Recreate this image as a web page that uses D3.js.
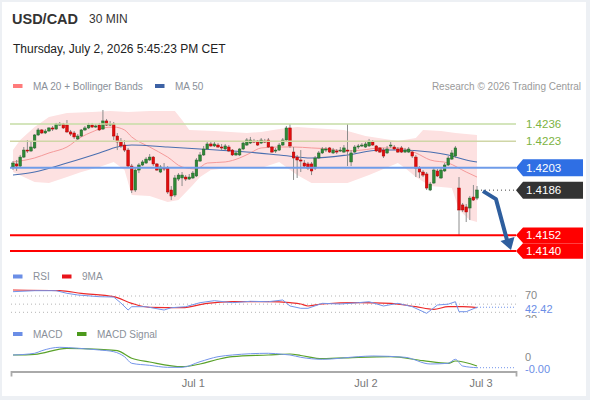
<!DOCTYPE html>
<html>
<head>
<meta charset="utf-8">
<script src="https://cdn.jsdelivr.net/npm/d3@7"></script>
<style>
  body { margin: 0; background: #fff; }
  svg text { font-family: "Liberation Sans", Arial, sans-serif; }
</style>
</head>
<body>
<svg id="chart" width="590" height="400"></svg>
<script>
// USD/CAD 30 min chart

// candles, oldest first (130 half-hour bars)
const candleOpen = [1.42035,1.42058,1.42042,1.42110,1.42163,1.42156,1.42179,1.42277,1.42315,1.42292,
  1.42307,1.42330,1.42322,1.42352,1.42360,1.42352,1.42300,1.42292,1.42247,1.42269,
  1.42315,1.42330,1.42352,1.42337,1.42352,1.42322,1.42383,1.42352,1.42360,1.42269,
  1.42231,1.42201,1.42163,1.42042,1.41861,1.42012,1.42050,1.42065,1.42088,1.42110,
  1.42058,1.41997,1.42027,1.42027,1.41861,1.41823,1.41944,1.41952,1.41959,1.41944,
  1.41952,1.41967,1.42080,1.42126,1.42171,1.42209,1.42194,1.42201,1.42186,1.42171,
  1.42186,1.42163,1.42126,1.42126,1.42171,1.42201,1.42216,1.42231,1.42231,1.42216,
  1.42231,1.42239,1.42186,1.42156,1.42163,1.42201,1.42239,1.42330,1.42148,1.42110,
  1.42088,1.42065,1.42058,1.42058,1.42027,1.42103,1.42141,1.42163,1.42179,1.42141,
  1.42156,1.42156,1.42148,1.42163,1.42073,1.42148,1.42186,1.42194,1.42186,1.42194,
  1.42224,1.42194,1.42179,1.42163,1.42141,1.42194,1.42186,1.42171,1.42179,1.42148,
  1.42148,1.42148,1.42110,1.42027,1.41997,1.41982,1.41861,1.41914,1.42005,1.41952,
  1.42005,1.42050,1.42095,1.42118,1.41876,1.41748,1.41733,1.41725,1.41808,1.41800];
const candleHigh = [1.42080,1.42088,1.42126,1.42186,1.42239,1.42231,1.42284,1.42330,1.42322,1.42322,
  1.42337,1.42345,1.42368,1.42375,1.42368,1.42390,1.42315,1.42307,1.42284,1.42322,
  1.42345,1.42368,1.42368,1.42360,1.42368,1.42466,1.42398,1.42383,1.42375,1.42292,
  1.42254,1.42239,1.42179,1.42058,1.42027,1.42065,1.42088,1.42110,1.42133,1.42118,
  1.42065,1.42050,1.42065,1.42042,1.41891,1.41974,1.41989,1.41997,1.41974,1.41982,
  1.42005,1.42103,1.42148,1.42194,1.42224,1.42224,1.42224,1.42216,1.42209,1.42209,
  1.42201,1.42171,1.42156,1.42179,1.42231,1.42254,1.42262,1.42247,1.42239,1.42254,
  1.42247,1.42254,1.42194,1.42179,1.42216,1.42254,1.42345,1.42360,1.42186,1.42126,
  1.42163,1.42088,1.42073,1.42073,1.42118,1.42156,1.42186,1.42186,1.42186,1.42179,
  1.42171,1.42186,1.42201,1.42360,1.42163,1.42201,1.42209,1.42216,1.42224,1.42247,
  1.42239,1.42201,1.42186,1.42179,1.42194,1.42231,1.42201,1.42186,1.42194,1.42179,
  1.42186,1.42163,1.42126,1.42042,1.42012,1.41997,1.41922,1.42027,1.42020,1.42027,
  1.42065,1.42118,1.42163,1.42194,1.41959,1.41763,1.41755,1.41816,1.41899,1.41891];
const candleLow = [1.42012,1.42005,1.42035,1.42103,1.42141,1.42148,1.42171,1.42269,1.42284,1.42284,
  1.42300,1.42307,1.42315,1.42345,1.42322,1.42292,1.42269,1.42247,1.42239,1.42262,
  1.42307,1.42322,1.42330,1.42330,1.42307,1.42315,1.42345,1.42345,1.42239,1.42163,
  1.42179,1.42148,1.42027,1.41838,1.41846,1.41989,1.42042,1.42058,1.42080,1.42042,
  1.42005,1.41989,1.42005,1.41831,1.41785,1.41808,1.41929,1.41891,1.41929,1.41937,
  1.41944,1.41959,1.42073,1.42118,1.42163,1.42186,1.42186,1.42179,1.42163,1.42163,
  1.42148,1.42118,1.42118,1.42118,1.42163,1.42194,1.42209,1.42216,1.42194,1.42209,
  1.42216,1.42179,1.42141,1.42141,1.42156,1.42194,1.42231,1.42179,1.41937,1.41952,
  1.41997,1.42027,1.42012,1.41974,1.42012,1.42095,1.42133,1.42148,1.42141,1.42133,
  1.42133,1.42148,1.42141,1.42042,1.42042,1.42141,1.42171,1.42186,1.42179,1.42186,
  1.42194,1.42148,1.42141,1.42103,1.42133,1.42179,1.42163,1.42141,1.42141,1.42141,
  1.42141,1.42103,1.41959,1.41952,1.41959,1.41861,1.41853,1.41906,1.41959,1.41944,
  1.41997,1.42042,1.42088,1.42103,1.41521,1.41695,1.41619,1.41634,1.41778,1.41785];
const candleClose = [1.42065,1.42042,1.42110,1.42163,1.42156,1.42186,1.42277,1.42315,1.42292,1.42307,
  1.42330,1.42322,1.42360,1.42360,1.42330,1.42300,1.42284,1.42262,1.42269,1.42315,
  1.42330,1.42352,1.42337,1.42345,1.42315,1.42383,1.42352,1.42360,1.42269,1.42224,
  1.42194,1.42163,1.42042,1.41861,1.42012,1.42050,1.42073,1.42095,1.42110,1.42058,
  1.42012,1.42035,1.42020,1.41846,1.41816,1.41952,1.41974,1.41974,1.41944,1.41959,
  1.41989,1.42088,1.42126,1.42171,1.42209,1.42194,1.42209,1.42186,1.42179,1.42194,
  1.42156,1.42126,1.42141,1.42171,1.42216,1.42239,1.42239,1.42226,1.42201,1.42239,
  1.42224,1.42186,1.42148,1.42163,1.42201,1.42239,1.42330,1.42194,1.42103,1.42088,
  1.42080,1.42042,1.42027,1.42005,1.42103,1.42141,1.42171,1.42171,1.42148,1.42163,
  1.42148,1.42163,1.42179,1.42156,1.42141,1.42186,1.42194,1.42201,1.42209,1.42231,
  1.42201,1.42156,1.42148,1.42118,1.42171,1.42201,1.42171,1.42148,1.42148,1.42163,
  1.42171,1.42118,1.42027,1.41997,1.41974,1.41876,1.41906,1.42012,1.41967,1.42012,
  1.42050,1.42103,1.42141,1.42179,1.41710,1.41710,1.41695,1.41800,1.41785,1.41861];

// Bollinger bands and moving averages (bar index -> value)
const bbUpperIdx = [0,2,6,10,15,22,27,32,38,45,47,49,56,65,69,74,79,83,92,98,107,112,114,119,123,129];
const bbUpper = [1.42163,1.42239,1.42337,1.42413,1.42443,1.42451,1.42458,1.42451,1.42458,1.42458,
  1.42390,1.42315,1.42307,1.42292,1.42300,1.42322,1.42337,1.42330,1.42315,1.42269,
  1.42231,1.42254,1.42315,1.42307,1.42292,1.42277];
const bbLowerIdx = [0,6,10,15,19,24,28,31,33,38,43,46,50,52,55,60,69,74,79,83,93,99,107,109,112,116,122,124,127,129];
const bbLower = [1.41997,1.41922,1.41914,1.41959,1.41997,1.42035,1.42073,1.42012,1.41823,1.41816,
  1.41770,1.41785,1.41899,1.41959,1.42012,1.42027,1.42027,1.42073,1.41974,1.41914,
  1.41914,1.41974,1.42065,1.42027,1.41959,1.41891,1.41876,1.41710,1.41634,1.41619];
const ma20Idx = [0,6,10,15,19,22,25,28,31,33,38,43,47,51,54,59,63,66,69,74,78,83,88,92,97,102,107,112,116,121,126,129];
const ma20 = [1.42073,1.42103,1.42141,1.42186,1.42262,1.42300,1.42330,1.42337,1.42315,1.42262,
  1.42186,1.42110,1.42035,1.42020,1.42065,1.42073,1.42103,1.42141,1.42179,1.42186,
  1.42186,1.42179,1.42171,1.42156,1.42163,1.42179,1.42179,1.42141,1.42088,1.42065,
  1.41997,1.41959];
const ma50Idx = [0,6,15,24,29,33,43,52,65,74,83,93,102,107,116,121,126,129];
const ma50 = [1.41974,1.41997,1.42065,1.42141,1.42186,1.42201,1.42186,1.42171,1.42148,1.42126,
  1.42103,1.42126,1.42163,1.42163,1.42148,1.42126,1.42088,1.42073];

// key levels
const resistLevels = [1.4236, 1.4223];
const pivotLevel = 1.4203;
const lastPrice = 1.4186;
const supportLevels = [1.4152, 1.4140];

// RSI and its 9 period average
const rsiIdx = [0,6,12,15,18,24,28,30,32,33,37,42,44,48,52,56,61,66,71,75,77,80,82,86,91,96,99,103,107,111,115,118,121,123,124,126,129];
const rsi = [80.6,83,83,76.6,72.5,68.3,67.5,52.8,35.6,43.7,43.7,35.6,41.3,43.7,53.6,58.5,53.6,57,56,60.2,
  45.5,39.8,39.8,52,50.4,53.6,56,45.5,52,43.7,27.5,47.9,50,56,31.5,31.5,42.42];
const rsiMaIdx = [0,13,19,28,33,38,47,54,61,71,77,80,82,86,96,105,112,117,121,125,129];
const rsiMa = [84.7,83,76.6,68.3,52,42.3,41.3,52,56,56,53.6,50.4,45.5,50.4,53.6,52,43.7,37.4,43.7,43.7,41.3];
const rsiLevels = [70, 50, 30];

// MACD and signal line
const macdIdx = [0,6,8,13,18,24,28,31,33,38,43,47,52,57,61,71,75,77,80,86,96,100,109,116,121,123,125,129];
const macd = [0.000092,0.00015,0.000238,0.000354,0.00032,0.000262,0.000204,0.000034,-0.00019,-0.000259,
  -0.000327,-0.000327,-0.000136,0.000034,0.000092,0.00015,0.000116,0.000092,0.000014,-0.000054,
  0.000034,0.000058,0.000014,-0.000214,-0.00019,-0.000054,-0.000282,-0.00034];
const signalIdx = [0,6,15,24,29,33,38,47,52,57,61,71,77,80,86,96,105,114,121,123,129];
const signal = [0.000092,0.000116,0.00032,0.000286,0.000238,-0.00002,-0.000146,-0.000306,-0.000214,-0.000054,
  0.000034,0.000092,0.000126,0.000075,-0.000034,0.000014,0.000034,-0.000102,-0.00019,-0.000112,-0.000282];

// x axis dates
const dateTicks = [50, 98, 130];
const dateLabels = ["Jul 1", "Jul 2", "Jul 3"];

const svg = d3.select("#chart");

// frame
svg.append("rect").attr("width", 590).attr("height", 400).attr("fill", "#edf0f4");
svg.append("rect").attr("x", 2).attr("y", 2).attr("width", 584).attr("height", 394).attr("fill", "#fff");

// scales
const x = d3.scaleLinear().domain([0, candleClose.length - 1]).range([13, 477]);
const y = d3.scaleLinear().domain([1.4140, 1.4236]).range([251, 124]);
const rsiY = d3.scaleLinear().domain([30, 70]).range([312.3, 296]);
const macdY = d3.scaleLinear().domain([0, 0.0001]).range([357.7, 354.76]);

const lineLeft = 10, lineRight = 516;

// header
svg.append("text").attr("x", 12).attr("y", 24).attr("font-size", 14.5).attr("font-weight", "bold")
  .attr("fill", "#333").text("USD/CAD");
svg.append("text").attr("x", 89).attr("y", 23).attr("font-size", 12).attr("fill", "#333").text("30 MIN");
svg.append("text").attr("x", 13).attr("y", 53).attr("font-size", 12).attr("fill", "#222")
  .text("Thursday, July 2, 2026 5:45:23 PM CET");

// legend helper
function legendItem(px, py, color, label) {
  svg.append("rect").attr("x", px).attr("y", py - 2).attr("width", 9.5).attr("height", 4).attr("fill", color);
  svg.append("text").attr("x", px + 20).attr("y", py).attr("dy", "0.35em")
    .attr("font-size", 10).attr("fill", "#8a9099").text(label);
}
legendItem(13, 86, "#ff7b7b", "MA 20 + Bollinger Bands");
legendItem(155, 86, "#3d62a5", "MA 50");
svg.append("text").attr("x", 581).attr("y", 86).attr("dy", "0.35em").attr("text-anchor", "end")
  .attr("font-size", 10).attr("fill", "#9a9a9a").text("Research \u00a9 2026 Trading Central");

// bollinger band area (upper forward, lower back)
const bandPts = bbUpperIdx.map((d, i) => [x(d), y(bbUpper[i])])
  .concat(bbLowerIdx.map((d, i) => [x(d), y(bbLower[i])]).reverse());
svg.append("path")
  .attr("d", d3.line().curve(d3.curveLinearClosed)(bandPts))
  .attr("fill", "#fde1e1");

// moving averages
const smooth = d3.line().x(d => x(d[0])).y(d => y(d[1])).curve(d3.curveMonotoneX);
svg.append("path").attr("d", smooth(ma20Idx.map((d, i) => [d, ma20[i]])))
  .attr("fill", "none").attr("stroke", "#f59a9a").attr("stroke-width", 1);
svg.append("path").attr("d", smooth(ma50Idx.map((d, i) => [d, ma50[i]])))
  .attr("fill", "none").attr("stroke", "#4a6fb0").attr("stroke-width", 1.1);

// candles
const candles = candleClose.map((c, i) => ({
  i: i, o: candleOpen[i], h: candleHigh[i], l: candleLow[i], c: c
}));
const bodyW = 2.6;
const cg = svg.append("g");
cg.selectAll("line.wick").data(candles).join("line")
  .attr("class", "wick")
  .attr("x1", d => x(d.i)).attr("x2", d => x(d.i))
  .attr("y1", d => y(d.h)).attr("y2", d => y(d.l))
  .attr("stroke", "#8c8c8c").attr("stroke-width", 1);
cg.selectAll("rect.body").data(candles).join("rect")
  .attr("class", "body")
  .attr("x", d => x(d.i) - bodyW / 2)
  .attr("width", bodyW)
  .attr("y", d => y(Math.max(d.o, d.c)))
  .attr("height", d => Math.max(1, Math.abs(y(d.o) - y(d.c))))
  .attr("fill", d => d.c > d.o ? "#2f8a36" : (d.c < d.o ? "#e20d0d" : "#888"))
  .attr("stroke", d => d.c > d.o ? "#22602a" : (d.c < d.o ? "#a00" : "#777"))
  .attr("stroke-width", 0.5);

// level lines
svg.selectAll("line.res").data(resistLevels).join("line")
  .attr("class", "res")
  .attr("x1", lineLeft).attr("x2", lineRight)
  .attr("y1", d => y(d)).attr("y2", d => y(d))
  .attr("stroke", (d, i) => i === 0 ? "#c6dda6" : "#cfd6a6").attr("stroke-width", 1.6);
svg.append("line")
  .attr("x1", lineLeft).attr("x2", lineRight)
  .attr("y1", y(pivotLevel)).attr("y2", y(pivotLevel))
  .attr("stroke", "#6f9ce9").attr("stroke-width", 2);
svg.selectAll("line.sup").data(supportLevels).join("line")
  .attr("class", "sup")
  .attr("x1", lineLeft).attr("x2", lineRight)
  .attr("y1", d => y(d)).attr("y2", d => y(d))
  .attr("stroke", "#ff0000").attr("stroke-width", 2);

// dotted line from last bar to the price tag
const lastX = x(candleClose.length - 1);
svg.append("line")
  .attr("x1", lastX + 4).attr("x2", lineRight)
  .attr("y1", y(lastPrice)).attr("y2", y(lastPrice))
  .attr("stroke", "#444").attr("stroke-width", 1).attr("stroke-dasharray", "1,3");

// price tags
svg.selectAll("text.res").data(resistLevels).join("text")
  .attr("class", "res")
  .attr("x", 526).attr("y", d => y(d)).attr("dy", "0.35em")
  .attr("font-size", 11.5).attr("fill", "#7cb342")
  .text(d => d.toFixed(4));

function priceTag(v, color, h) {
  const cy = y(v);
  const p = d3.path();
  p.moveTo(516, cy);
  p.lineTo(523, cy - h / 2);
  p.lineTo(583, cy - h / 2);
  p.lineTo(583, cy + h / 2);
  p.lineTo(523, cy + h / 2);
  p.closePath();
  svg.append("path").attr("d", p.toString()).attr("fill", color);
  svg.append("text").attr("x", 526).attr("y", cy).attr("dy", "0.36em")
    .attr("font-size", 11.5).attr("fill", "#fff").text(v.toFixed(4));
}
priceTag(pivotLevel, "#2f6fe4", 17);
priceTag(lastPrice, "#333333", 17);
supportLevels.forEach(v => priceTag(v, "#ff0000", 15.5));

// forecast arrow
const ax0 = lastX + 6, ay0 = y(lastPrice) + 1;
const ayEnd = y(supportLevels[1]);
svg.append("path")
  .attr("d", `M${ax0},${ay0} L${ax0 + 13},${ay0 + 8} L${ax0 + 24},${ayEnd - 11}`)
  .attr("fill", "none").attr("stroke", "#2e5e9e").attr("stroke-width", 4)
  .attr("stroke-linejoin", "round");
svg.append("path")
  .attr("d", `M${ax0 + 17.5},${ayEnd - 10} L${ax0 + 31.5},${ayEnd - 14} L${ax0 + 28},${ayEnd - 1} Z`)
  .attr("fill", "#2e5e9e");

// ---- RSI panel ----
legendItem(13, 276.5, "#6b8ee6", "RSI");
legendItem(62, 276.5, "#e8141a", "9MA");

svg.selectAll("line.rsilvl").data(rsiLevels).join("line")
  .attr("class", "rsilvl")
  .attr("x1", 11).attr("x2", lineRight)
  .attr("y1", d => rsiY(d)).attr("y2", d => rsiY(d))
  .attr("stroke", "#b5b5b5").attr("stroke-width", 1).attr("stroke-dasharray", "1,3");

const rsiLine = d3.line().x(d => x(d[0])).y(d => rsiY(d[1]));
svg.append("path").attr("d", rsiLine.curve(d3.curveMonotoneX)(rsiMaIdx.map((d, i) => [d, rsiMa[i]])))
  .attr("fill", "none").attr("stroke", "#ec2a2a").attr("stroke-width", 1.2);
svg.append("path").attr("d", rsiLine.curve(d3.curveLinear)(rsiIdx.map((d, i) => [d, rsi[i]])))
  .attr("fill", "none").attr("stroke", "#7394ea").attr("stroke-width", 1);
svg.append("line")
  .attr("x1", lastX).attr("x2", lineRight)
  .attr("y1", rsiY(rsi[rsi.length - 1])).attr("y2", rsiY(rsi[rsi.length - 1]))
  .attr("stroke", "#7394ea").attr("stroke-dasharray", "1,2");

// the "30" tag sits mostly under the live RSI tag, as in the original
svg.append("defs").append("clipPath").attr("id", "rsiClip")
  .append("rect").attr("x", 518).attr("y", 285).attr("width", 70).attr("height", 33);
const rsiLabels = svg.append("g").attr("clip-path", "url(#rsiClip)");
rsiLabels.append("text").attr("x", 525).attr("y", rsiY(70) - 0.5).attr("dy", "0.35em")
  .attr("font-size", 11).attr("fill", "#888").text("70");
rsiLabels.append("text").attr("x", 525).attr("y", rsiY(30) + 7).attr("dy", "0.35em")
  .attr("font-size", 11).attr("fill", "#888").text("30");
rsiLabels.append("rect").attr("x", 522).attr("y", rsiY(rsi[rsi.length - 1]) - 5.5)
  .attr("width", 40).attr("height", 13).attr("fill", "#fff");
rsiLabels.append("text").attr("x", 525).attr("y", rsiY(rsi[rsi.length - 1]) + 1.5).attr("dy", "0.35em")
  .attr("font-size", 11).attr("fill", "#6b8ee6").text(rsi[rsi.length - 1].toFixed(2));

// ---- MACD panel ----
legendItem(13, 334, "#6b8ee6", "MACD");
legendItem(77, 334, "#4c9a1c", "MACD Signal");

const macdLine = d3.line().x(d => x(d[0])).y(d => macdY(d[1])).curve(d3.curveMonotoneX);
svg.append("path").attr("d", macdLine(signalIdx.map((d, i) => [d, signal[i]])))
  .attr("fill", "none").attr("stroke", "#5aa22a").attr("stroke-width", 1.2);
svg.append("path").attr("d", macdLine(macdIdx.map((d, i) => [d, macd[i]])))
  .attr("fill", "none").attr("stroke", "#7394ea").attr("stroke-width", 1);
const lastMacd = macd[macd.length - 1];
svg.append("line")
  .attr("x1", lastX).attr("x2", lineRight)
  .attr("y1", macdY(lastMacd)).attr("y2", macdY(lastMacd))
  .attr("stroke", "#7394ea").attr("stroke-dasharray", "1,2");
svg.append("text").attr("x", 525).attr("y", macdY(0) - 0.5).attr("dy", "0.35em")
  .attr("font-size", 11).attr("fill", "#888").text("0");
svg.append("text").attr("x", 525).attr("y", macdY(lastMacd) + 1.5).attr("dy", "0.35em")
  .attr("font-size", 11).attr("fill", "#6b8ee6").text(lastMacd.toFixed(2));

// ---- x axis ----
const xAxisScale = d3.scaleLinear().domain([x.invert(11), x.invert(516)]).range([11, 516]);
const axis = svg.append("g").attr("transform", "translate(0,371.5)")
  .call(d3.axisBottom(xAxisScale).tickValues(dateTicks)
    .tickFormat((d, i) => dateLabels[i]).tickSize(0).tickSizeOuter(5).tickPadding(8));
axis.select(".domain").attr("stroke", "#aaa").attr("stroke-width", 1.8);
axis.selectAll("text").attr("font-size", 11).attr("fill", "#777")
  .attr("font-family", "Liberation Sans, Arial, sans-serif");
</script>
</body>
</html>
